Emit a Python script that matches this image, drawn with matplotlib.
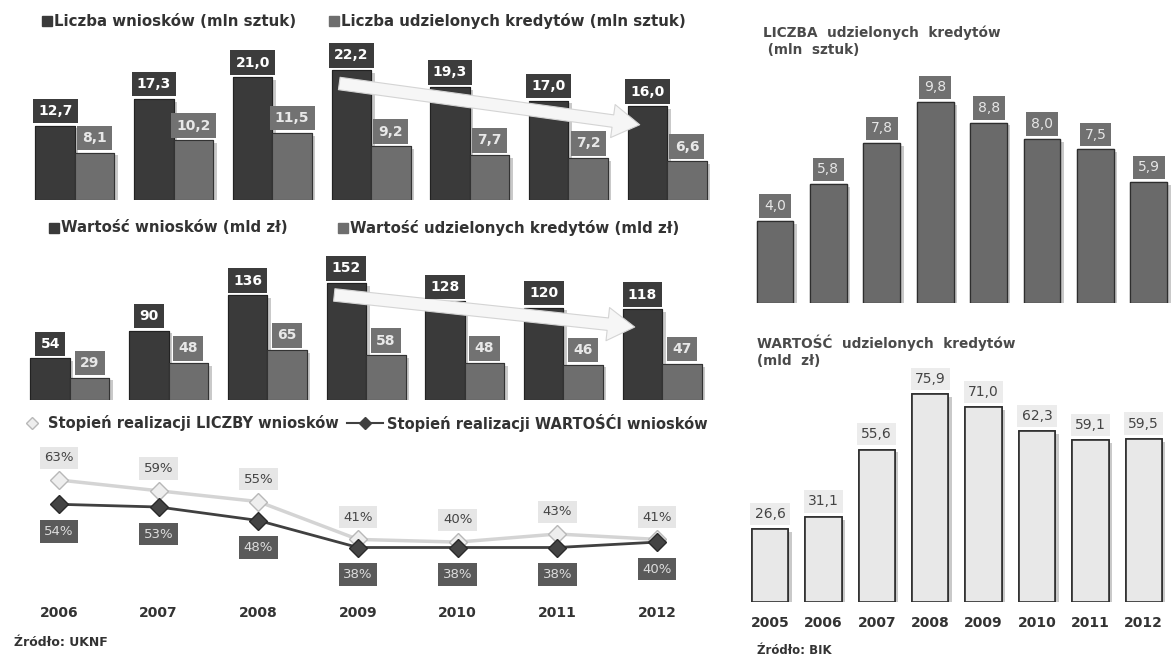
import matplotlib
matplotlib.use("Agg")
import matplotlib.pyplot as plt
import matplotlib.patheffects as pe
from matplotlib.lines import Line2D
import numpy as np

# ---- data ----
years_left = ["2006", "2007", "2008", "2009", "2010", "2011", "2012"]
applications_count = [12.7, 17.3, 21.0, 22.2, 19.3, 17.0, 16.0]   # mln sztuk
granted_count = [8.1, 10.2, 11.5, 9.2, 7.7, 7.2, 6.6]             # mln sztuk
applications_value = [54, 90, 136, 152, 128, 120, 118]            # mld zl
granted_value = [29, 48, 65, 58, 48, 46, 47]                      # mld zl
rate_count = [63, 59, 55, 41, 40, 43, 41]                         # %
rate_value = [54, 53, 48, 38, 38, 38, 40]                         # %

years_right = ["2005", "2006", "2007", "2008", "2009", "2010", "2011", "2012"]
bik_count = [4.0, 5.8, 7.8, 9.8, 8.8, 8.0, 7.5, 5.9]
bik_value = [26.6, 31.1, 55.6, 75.9, 71.0, 62.3, 59.1, 59.5]

W, H = 1171, 657
DARK = "#3a3a3a"
MID = "#6e6e6e"
TXT = "#333333"
plt.rcParams["font.family"] = ["DejaVu Sans"]

fig = plt.figure(figsize=(W / 100, H / 100), dpi=100)
fig.patch.set_facecolor("white")


def fx(x):
    return x / W


def fy(y):
    return 1 - y / H


def px_axes(l, t, r, b):
    ax = fig.add_axes([fx(l), fy(b), (r - l) / W, (b - t) / H])
    ax.axis("off")
    return ax


def comma(v, nd=1):
    return f"{v:.{nd}f}".replace(".", ",")


shadow = [pe.withSimplePatchShadow(offset=(2.5, -2), shadow_rgbFace="#888888", alpha=0.45), pe.Normal()]


def legend_item(x, y, label, color):
    fig.add_artist(Line2D([fx(x)], [fy(y)], marker="s", ms=7.5, color=color,
                          transform=fig.transFigure))
    fig.text(fx(x + 7), fy(y), label, ha="left", va="center", fontsize=10.8,
             fontweight="bold", color=TXT)


def bar_labels(ax, xs, vals, fc, tc, fmt):
    for x, v in zip(xs, vals):
        ax.annotate(fmt(v), (x, v), xytext=(0, 5.5), textcoords="offset points",
                    ha="center", va="bottom", fontsize=10, fontweight="bold", color=tc,
                    bbox=dict(boxstyle="square,pad=0.38", fc=fc, ec="none"), zorder=5)


def grouped_panel(ax, dark_vals, light_vals, fmt):
    idx = np.arange(len(dark_vals))
    xd = idx - 0.2
    xl = idx + 0.2
    ax.bar(xd, dark_vals, width=0.4, color=DARK, edgecolor="#222222", linewidth=0.8,
           path_effects=shadow, zorder=2)
    ax.bar(xl, light_vals, width=0.4, color=MID, edgecolor="#333333", linewidth=0.8,
           path_effects=shadow, zorder=2)
    bar_labels(ax, xd, dark_vals, "#3c3c3c", "white", fmt)
    bar_labels(ax, xl, light_vals, "#727272", "#e8e8e8", fmt)
    # trend arrow from the peak year to the last year
    ax.annotate("", xy=(xd[6] - 0.05, 0.8 * dark_vals[6]),
                xytext=(xd[3] - 0.15, 0.9 * dark_vals[3]),
                arrowprops=dict(arrowstyle="simple,head_length=1.3,head_width=1.6,tail_width=0.6",
                                mutation_scale=15, fc="#f6f6f6", ec="#d4d4d4", lw=0.8),
                zorder=4)
    ax.set_xlim(-0.5, 6.5)


# ---- panel 1: number of applications / loans ----
ax1 = px_axes(25.6, 40, 716.5, 200)
grouped_panel(ax1, applications_count, granted_count, comma)
ax1.set_ylim(0, 160 / 5.85)
legend_item(47, 21, "Liczba wniosków (mln sztuk)", DARK)
legend_item(334, 21, "Liczba udzielonych kredytów (mln sztuk)", MID)

# ---- panel 2: value of applications / loans ----
ax2 = px_axes(20.6, 240, 711.5, 400)
grouped_panel(ax2, applications_value, granted_value, lambda v: f"{v:d}")
ax2.set_ylim(0, 160 / 0.77)
legend_item(54, 228, "Wartość wniosków (mld zł)", DARK)
legend_item(343, 228, "Wartość udzielonych kredytów (mld zł)", MID)

# ---- panel 3: realisation rate ----
ax3 = px_axes(9.2, 440, 706.8, 600)
xi = np.arange(len(years_left))
ax3.plot(xi, rate_count, color="#d4d4d4", lw=2.5, marker="D", ms=9,
         mfc="#eeeeee", mec="#b8b8b8", mew=1, zorder=2)
ax3.plot(xi, rate_value, color="#404040", lw=2, marker="D", ms=9,
         mfc="#444444", mec="#2a2a2a", zorder=3)
for x, v in zip(xi, rate_count):
    ax3.annotate(f"{v}%", (x, v), xytext=(0, 16), textcoords="offset points",
                 ha="center", va="center", fontsize=9.5, color="#444444",
                 bbox=dict(boxstyle="square,pad=0.35", fc="#e6e6e6", ec="none"), zorder=5)
for x, v in zip(xi, rate_value):
    ax3.annotate(f"{v}%", (x, v), xytext=(0, -19.5), textcoords="offset points",
                 ha="center", va="center", fontsize=9.5, color="#dddddd",
                 bbox=dict(boxstyle="square,pad=0.35", fc="#5a5a5a", ec="none"), zorder=5)
ax3.set_xlim(-0.5, 6.5)
ax3.set_ylim(63 - 120 / 2.7, 63 + 40 / 2.7)
for x, yr in zip(xi, years_left):
    ax3.text(x, -0.08, yr, transform=ax3.get_xaxis_transform(), ha="center", va="center",
             fontsize=10, fontweight="bold", color=TXT)

fig.add_artist(Line2D([fx(32)], [fy(423)], marker="D", ms=6, mfc="#eeeeee",
                      mec="#b8b8b8", ls="none", transform=fig.transFigure))
fig.text(fx(48), fy(423), "Stopień realizacji LICZBY wniosków", ha="left", va="center",
         fontsize=10.5, fontweight="bold", color=TXT)
fig.add_artist(Line2D([fx(347), fx(383)], [fy(423), fy(423)], color="#404040", lw=1.5,
                      transform=fig.transFigure))
fig.add_artist(Line2D([fx(365)], [fy(423)], marker="D", ms=6, color="#404040",
                      transform=fig.transFigure))
fig.text(fx(387), fy(423), "Stopień realizacji WARTOŚĆI wniosków", ha="left", va="center",
         fontsize=10.5, fontweight="bold", color=TXT)
fig.text(fx(14), fy(642), "Źródło: UKNF", ha="left", va="center", fontsize=9,
         fontweight="bold", color=TXT)

# ---- right top: number of granted loans (BIK) ----
xr = np.arange(len(years_right))
ax4 = px_axes(748.3, 70, 1171, 303)
ax4.bar(xr, bik_count, width=0.69, color="#6a6a6a", edgecolor="#2e2e2e", linewidth=0.9,
        path_effects=shadow, zorder=2)
for x, v in zip(xr, bik_count):
    ax4.annotate(comma(v), (x, v), xytext=(0, 5.5), textcoords="offset points",
                 ha="center", va="bottom", fontsize=10, color="#e6e6e6",
                 bbox=dict(boxstyle="square,pad=0.35", fc="#707070", ec="none"), zorder=5)
ax4.set_xlim(-0.5, (1171 - 775) / 53.4)
ax4.set_ylim(0, 233 / 20.5)
fig.text(fx(763), fy(41), "LICZBA  udzielonych  kredytów\n (mln  sztuk)", ha="left",
         va="center", fontsize=9.8, fontweight="bold", color="#4a4a4a", linespacing=1.25)

# ---- right bottom: value of granted loans (BIK) ----
ax5 = px_axes(743.3, 380, 1171, 602)
ax5.bar(xr, bik_value, width=0.68, color="#e8e8e8", edgecolor="#2e2e2e", linewidth=1.2,
        path_effects=shadow, zorder=2)
for x, v in zip(xr, bik_value):
    ax5.annotate(comma(v), (x, v), xytext=(0, 6), textcoords="offset points",
                 ha="center", va="bottom", fontsize=10, color="#444444",
                 bbox=dict(boxstyle="square,pad=0.3", fc="#ececec", ec="none"), zorder=5)
ax5.set_xlim(-0.5, (1171 - 770) / 53.4)
ax5.set_ylim(0, 222 / 2.74)
for x, yr in zip(xr, years_right):
    ax5.text(x, -0.095, yr, transform=ax5.get_xaxis_transform(), ha="center", va="center",
             fontsize=10, fontweight="bold", color=TXT)
fig.text(fx(757), fy(351), "WARTOŚĆ  udzielonych  kredytów\n(mld  zł)", ha="left",
         va="center", fontsize=9.8, fontweight="bold", color="#4a4a4a", linespacing=1.25)
fig.text(fx(757), fy(650), "Źródło: BIK", ha="left", va="center", fontsize=8.5,
         fontweight="bold", color=TXT)

fig.savefig("out.png", dpi=100, facecolor="white")
